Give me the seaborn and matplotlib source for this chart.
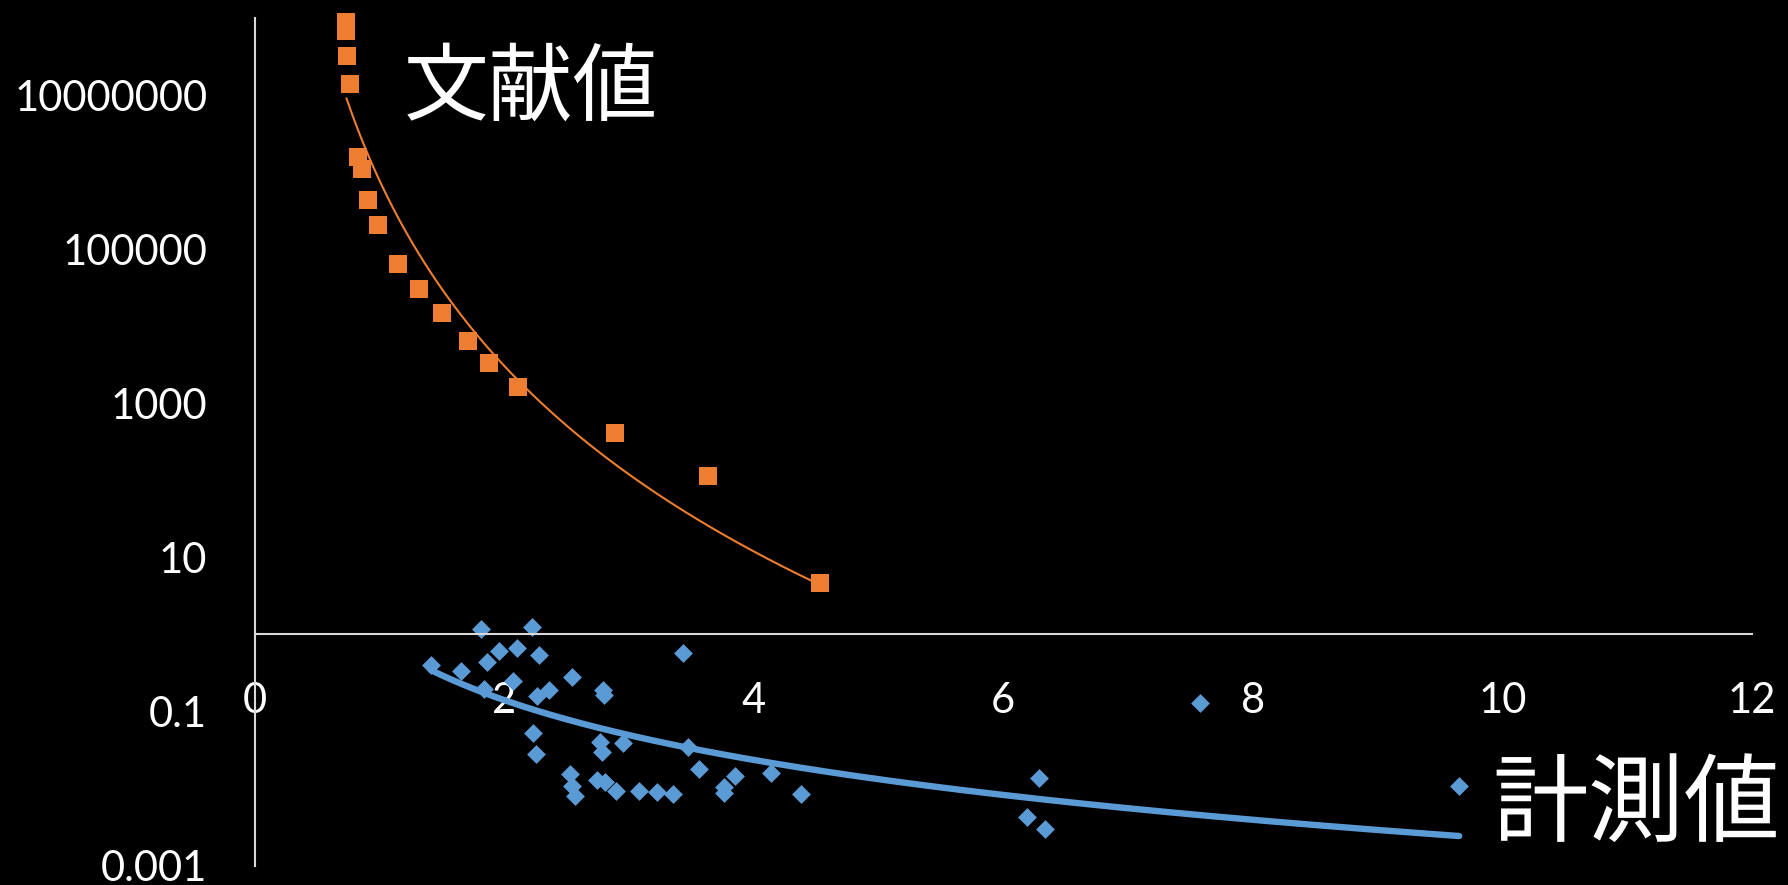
import numpy as np
import pandas as pd
import matplotlib
matplotlib.use("Agg")
import matplotlib.pyplot as plt
import seaborn as sns
from matplotlib.ticker import FixedLocator, FixedFormatter

# ---- data ----
lit_x = [0.737, 0.737, 0.744, 0.764, 0.833, 0.859, 0.906, 0.986, 1.15, 1.32,
         1.50, 1.71, 1.876, 2.11, 2.886, 3.634, 4.53]
lit_y = [8.9e7, 6.9e7, 3.3e7, 1.4e7, 1.6e6, 1.1e6, 4.4e5, 2.1e5, 6.4e4, 3.1e4,
         1.5e4, 6.5e3, 3.4e3, 1.65e3, 410, 113, 4.6]

meas_x = [1.412, 1.655, 1.813, 1.867, 1.959, 2.106, 2.221, 2.282, 2.071, 1.841,
          2.261, 2.360, 2.544, 2.795, 2.803, 3.431, 2.229, 2.256, 2.768, 2.787,
          2.950, 3.471, 2.528, 2.542, 2.568, 2.742, 2.806, 2.897, 3.082, 3.229,
          3.356, 3.564, 3.849, 3.766, 3.766, 4.136, 4.377, 6.286, 6.187, 6.334,
          7.576, 9.654]
meas_y = [0.402, 0.336, 1.17, 0.443, 0.616, 0.674, 1.26, 0.542, 0.251, 0.194,
          0.159, 0.190, 0.283, 0.190, 0.164, 0.580, 0.0531, 0.0281, 0.0405, 0.0301,
          0.0394, 0.0349, 0.0154, 0.0109, 0.0080, 0.0129, 0.0123, 0.0093, 0.0094, 0.0089,
          0.0085, 0.0179, 0.0147, 0.0105, 0.0088, 0.0157, 0.0085, 0.0138, 0.0043, 0.0030,
          0.128, 0.0108]

x_ticks = [0, 2, 4, 6, 8, 10, 12]
y_ticks = [0.001, 0.1, 10, 1000, 100000, 10000000]
y_tick_labels = ["0.001", "0.1", "10", "1000", "100000", "10000000"]

label_lit = "文献値"
label_meas = "計測値"

ORANGE = "#ED7D31"
BLUE = "#5B9BD5"
AXIS_C = "#D9D9D9"

sns.set_theme(style="white", rc={"figure.facecolor": "black", "axes.facecolor": "black"})
plt.rcParams["font.family"] = ["Lato", "Noto Sans CJK JP", "DejaVu Sans"]

fig = plt.figure(figsize=(17.88, 8.85), dpi=100)
fig.patch.set_facecolor("black")
ax = fig.add_axes([0.14234, 0.02203, 0.8375, 0.9571])
ax.set_facecolor("black")


def power_fit(x, y):
    lx, ly = np.log10(np.asarray(x)), np.log10(np.asarray(y))
    b, la = np.polyfit(lx, ly, 1)
    xs = np.geomspace(min(x), max(x), 300)
    return xs, 10 ** la * xs ** b


lit_df = pd.DataFrame({"x": lit_x, "y": lit_y})
meas_df = pd.DataFrame({"x": meas_x, "y": meas_y})

fx, fy = power_fit(lit_x, lit_y)
sns.lineplot(x=fx, y=fy, ax=ax, color=ORANGE, linewidth=1.5, zorder=1, sort=False)
mx, my = power_fit(meas_x, meas_y)
sns.lineplot(x=mx, y=my, ax=ax, color=BLUE, linewidth=4.6, zorder=1, sort=False,
             solid_capstyle="round")

sns.scatterplot(data=lit_df, x="x", y="y", ax=ax, marker="s", s=165, color=ORANGE,
                linewidth=0, zorder=2, clip_on=False)
sns.scatterplot(data=meas_df, x="x", y="y", ax=ax, marker="D", s=92, color=BLUE,
                linewidth=0, zorder=2, clip_on=False)

ax.set_yscale("log")
ax.set_xlim(0, 12)
ax.set_ylim(0.001, 1e8)
ax.set_xlabel("")
ax.set_ylabel("")

ax.xaxis.set_major_locator(FixedLocator(x_ticks))
ax.set_xticklabels([str(t) for t in x_ticks])
ax.yaxis.set_major_locator(FixedLocator(y_ticks))
ax.yaxis.set_major_formatter(FixedFormatter(y_tick_labels))
ax.yaxis.set_minor_locator(FixedLocator([]))

for s in ["top", "right"]:
    ax.spines[s].set_visible(False)
ax.spines["bottom"].set_position(("data", 1))
ax.spines["left"].set_position(("data", 0))
for s in ["bottom", "left"]:
    ax.spines[s].set_color(AXIS_C)
    ax.spines[s].set_linewidth(1.5)

ax.tick_params(axis="x", length=0, pad=34, labelsize=30, labelcolor="white")
ax.tick_params(axis="y", length=0, pad=34, labelsize=30, labelcolor="white")
ax.grid(False)

fig.text(530.5 / 1788, 1 - 89 / 885, label_lit, color="white", fontsize=61,
         family=["Noto Sans CJK JP", "DejaVu Sans"], ha="center", va="center")
fig.text(1636 / 1788, 1 - 806 / 885, label_meas, color="white", fontsize=69,
         family=["Noto Sans CJK JP", "DejaVu Sans"], ha="center", va="center")

fig.savefig("out.png", dpi=100, facecolor="black")
